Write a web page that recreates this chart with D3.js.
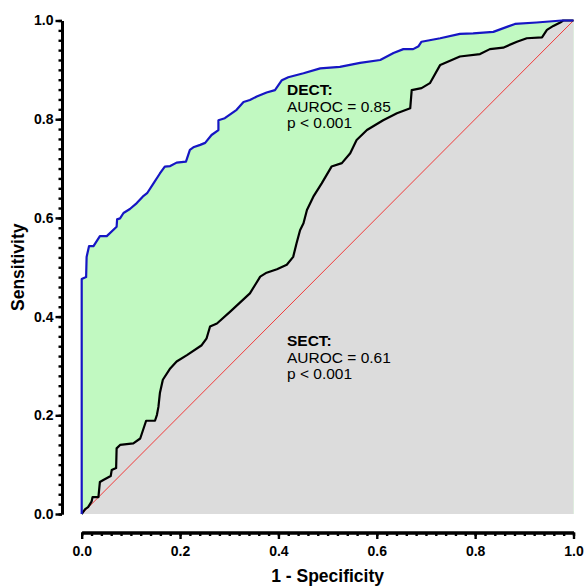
<!DOCTYPE html>
<html lang="en">
<head>
	<meta charset="utf-8">
	<title>ROC curves: DECT vs SECT</title>
	<script type="text/javascript" src="https://cdn.jsdelivr.net/npm/d3@7"></script>
	<style>
		body { margin: 0; background: white; }
		text { font-family: "Liberation Sans", Arial, sans-serif; }
		.axis path, .axis line { stroke: black; }
		.axis text { font-weight: bold; font-size: 14px; fill: black; }
	</style>
</head>
<body>
<div id="chart"></div>
<script type="text/javascript">

	// DECT curve (1 - specificity, sensitivity)
	var dectFpr = [0, 0, 0.009, 0.010, 0.015, 0.024, 0.037, 0.051, 0.071, 0.072, 0.078, 0.085, 0.098, 0.112,
		0.124, 0.133, 0.146, 0.159, 0.169, 0.180, 0.193, 0.212, 0.220, 0.227, 0.241, 0.251, 0.264, 0.278, 0.278,
		0.291, 0.315, 0.329, 0.342, 0.356, 0.376, 0.393, 0.407, 0.420, 0.451, 0.485, 0.525, 0.566, 0.607, 0.634,
		0.654, 0.674, 0.685, 0.691, 0.729, 0.769, 0.796, 0.837, 0.881, 0.925, 0.976, 1];
	var dectTpr = [0, 0.476, 0.480, 0.521, 0.543, 0.543, 0.563, 0.563, 0.582, 0.597, 0.599, 0.610, 0.618, 0.630,
		0.643, 0.650, 0.670, 0.690, 0.704, 0.705, 0.712, 0.714, 0.738, 0.743, 0.748, 0.752, 0.768, 0.778, 0.798,
		0.802, 0.819, 0.835, 0.839, 0.846, 0.854, 0.859, 0.879, 0.885, 0.893, 0.903, 0.906, 0.914, 0.920, 0.934,
		0.942, 0.942, 0.948, 0.957, 0.964, 0.973, 0.974, 0.977, 0.993, 0.996, 1.0, 1];

	// SECT curve
	var sectFpr = [0, 0.007, 0.013, 0.020, 0.022, 0.034, 0.037, 0.044, 0.059, 0.061, 0.070, 0.071, 0.078, 0.105,
		0.119, 0.131, 0.149, 0.153, 0.156, 0.159, 0.165, 0.180, 0.193, 0.214, 0.244, 0.254, 0.261, 0.275, 0.302,
		0.342, 0.363, 0.376, 0.397, 0.417, 0.430, 0.437, 0.444, 0.451, 0.458, 0.471, 0.488, 0.508, 0.529, 0.546,
		0.559, 0.580, 0.613, 0.641, 0.668, 0.671, 0.691, 0.708, 0.729, 0.769, 0.810, 0.830, 0.857, 0.885, 0.905,
		0.936, 0.946, 0.959, 0.973, 0.979, 1];
	var sectTpr = [0, 0.010, 0.014, 0.025, 0.034, 0.034, 0.065, 0.069, 0.077, 0.089, 0.093, 0.133, 0.140, 0.143,
		0.153, 0.189, 0.189, 0.201, 0.217, 0.245, 0.272, 0.295, 0.309, 0.322, 0.342, 0.356, 0.380, 0.386, 0.410,
		0.447, 0.481, 0.489, 0.496, 0.505, 0.521, 0.549, 0.575, 0.589, 0.616, 0.643, 0.670, 0.704, 0.711, 0.731,
		0.758, 0.778, 0.798, 0.812, 0.822, 0.859, 0.863, 0.873, 0.910, 0.927, 0.932, 0.942, 0.945, 0.957, 0.964,
		0.966, 0.981, 0.989, 0.996, 1.0, 1];

	// tick values
	var majorTicks = [0, 0.2, 0.4, 0.6, 0.8, 1.0];
	var minorTicks = d3.range(0, 51).map(function(i) { return i / 50; });

	// annotation text
	var dectLabel = ["DECT:", "AUROC = 0.85", "p < 0.001"];
	var sectLabel = ["SECT:", "AUROC = 0.61", "p < 0.001"];

	var width = 587, height = 586;

	var svg = d3.select("#chart").append("svg")
		.attr("width", width)
		.attr("height", height);

	var xScale = d3.scaleLinear().domain([0, 1]).range([81.7, 573.5]);
	var yScale = d3.scaleLinear().domain([0, 1]).range([514, 20.5]);

	function toPoints(xs, ys) {
		return xs.map(function(d, i) { return [d, ys[i]]; });
	}
	var dect = toPoints(dectFpr, dectTpr);
	var sect = toPoints(sectFpr, sectTpr);

	var area = d3.area()
		.x(function(d) { return xScale(d[0]); })
		.y0(yScale(0))
		.y1(function(d) { return yScale(d[1]); });

	var line = d3.line()
		.x(function(d) { return xScale(d[0]); })
		.y(function(d) { return yScale(d[1]); });

	// green = area under DECT, then grey under SECT on top
	svg.append("path").datum(dect).attr("d", area).style("fill", "#c1f9c1");
	svg.append("path").datum(sect).attr("d", area).style("fill", "#dcdcdc");

	// chance line
	svg.append("line")
		.attr("x1", xScale(0)).attr("y1", yScale(0))
		.attr("x2", xScale(1)).attr("y2", yScale(1))
		.style("stroke", "#f03c3c")
		.style("stroke-width", 1);

	svg.append("path").datum(sect).attr("d", line)
		.style("fill", "none").style("stroke", "black").style("stroke-width", 2.2)
		.style("stroke-linejoin", "round");
	svg.append("path").datum(dect).attr("d", line)
		.style("fill", "none").style("stroke", "#1616c4").style("stroke-width", 2.2)
		.style("stroke-linejoin", "round");

	// Axes (detached from plot like Prism)
	var xAxisY = 532.5, yAxisX = 62;

	var xMinor = d3.axisBottom(xScale).tickValues(minorTicks).tickSize(3.5).tickSizeOuter(0).tickFormat("");
	var xMajor = d3.axisBottom(xScale).tickValues(majorTicks).tickSize(6.5).tickSizeOuter(0)
		.tickFormat(d3.format(".1f"));
	var yMinor = d3.axisLeft(yScale).tickValues(minorTicks).tickSize(3.5).tickSizeOuter(0).tickFormat("");
	var yMajor = d3.axisLeft(yScale).tickValues(majorTicks).tickSize(6.5).tickSizeOuter(0)
		.tickFormat(d3.format(".1f"));

	var gx = svg.append("g").attr("class", "axis").attr("transform", "translate(0," + xAxisY + ")");
	gx.append("g").call(xMinor);
	gx.append("g").call(xMajor);
	gx.selectAll("text").attr("y", 13.5).attr("dy", "0.71em");

	var gy = svg.append("g").attr("class", "axis").attr("transform", "translate(" + yAxisX + ",0)");
	gy.append("g").call(yMinor);
	gy.append("g").call(yMajor);
	gy.selectAll("text").attr("x", -8.5);

	svg.selectAll(".axis path").style("stroke-width", 3);
	svg.selectAll(".axis line").style("stroke-width", 2.4);

	// Axis titles
	svg.append("text")
		.attr("x", xScale(0.5)).attr("y", 582)
		.attr("text-anchor", "middle")
		.style("font-weight", "bold").style("font-size", "17.5px")
		.text("1 - Specificity");

	svg.append("text")
		.attr("transform", "translate(24," + yScale(0.5) + ") rotate(-90)")
		.attr("text-anchor", "middle")
		.style("font-weight", "bold").style("font-size", "17.5px")
		.text("Sensitivity");

	// Annotations
	function annotate(lines, x, y) {
		svg.append("g").selectAll("text")
			.data(lines)
			.enter()
			.append("text")
			.attr("x", x)
			.attr("y", function(d, i) { return y + i * 16.5; })
			.style("font-size", "15.5px")
			.style("font-weight", function(d, i) { return i == 0 ? "bold" : "normal"; })
			.text(function(d) { return d; });
	}
	annotate(dectLabel, 287, 95);
	annotate(sectLabel, 287, 346);

</script>
</body>
</html>
